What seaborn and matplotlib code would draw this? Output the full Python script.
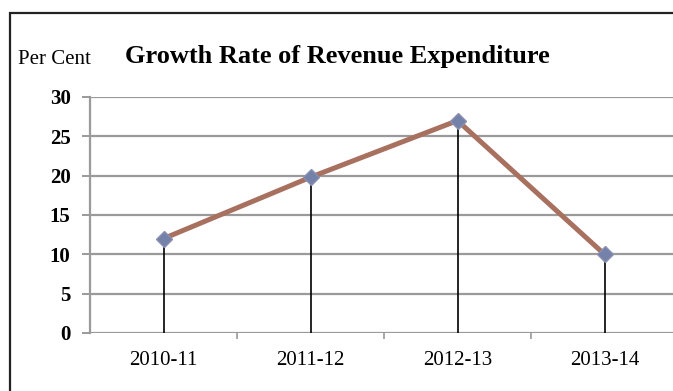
import matplotlib
matplotlib.use("Agg")
import matplotlib.pyplot as plt
import matplotlib.patches as mpatches
import seaborn as sns
import pandas as pd

years = ["2010-11", "2011-12", "2012-13", "2013-14"]
growth = [12.0, 19.8, 27.0, 10.0]
y_ticks = [0, 5, 10, 15, 20, 25, 30]

df = pd.DataFrame({"year": years, "growth": growth})

sns.set_theme(style="white")
plt.rcParams["font.family"] = ["Liberation Serif", "DejaVu Serif"]
plt.rcParams["text.color"] = "black"
plt.rcParams["xtick.color"] = "black"
plt.rcParams["ytick.color"] = "black"

W, H = 673, 391
fig = plt.figure(figsize=(W / 100, H / 100), dpi=100)
fig.patch.set_facecolor("white")

# outer frame
fig.patches.append(mpatches.Rectangle((10 / W, -0.2), 1.2, (H - 13) / H + 0.2,
                                      transform=fig.transFigure, fill=False,
                                      edgecolor="#222222", linewidth=1.6))

ax = fig.add_axes([90 / W, 58 / H, 588 / W, 236 / H])
ax.set_facecolor("none")

grid_c = "#9a9a9a"
for t in y_ticks:
    ax.axhline(t, color=grid_c, linewidth=1.6, zorder=1)

# drop lines from each point to the baseline
for i, v in enumerate(df["growth"]):
    ax.vlines(i, 0, v, color="black", linewidth=1.2, zorder=2)

sns.lineplot(data=df, x="year", y="growth", sort=False, ax=ax,
             color="#a8705f", linewidth=3.6, zorder=3,
             marker="D", markersize=8, markerfacecolor="#7482aa",
             markeredgecolor="#8a90b0", markeredgewidth=1)

ax.set_xlim(-0.5, 3.5)
ax.set_ylim(0, 30)
ax.set_yticks(y_ticks)
ax.set_yticklabels([str(t) for t in y_ticks], fontsize=15, fontweight="bold")
ax.set_xticks(range(len(years)))
ax.set_xticklabels(years, fontsize=15)
ax.set_xticks([0.5, 1.5, 2.5], minor=True)
ax.tick_params(axis="y", which="major", left=True, length=6, width=1.4,
               color=grid_c, pad=8)
ax.tick_params(axis="x", which="major", bottom=False, pad=7)
ax.tick_params(axis="x", which="minor", bottom=True, length=4, width=1.2,
               color=grid_c)
ax.set_xlabel("")
ax.set_ylabel("")
for s in ["top", "right", "bottom"]:
    ax.spines[s].set_visible(False)
ax.spines["left"].set_color(grid_c)
ax.spines["left"].set_linewidth(1.6)

fig.text(18 / W, 1 - 60 / H, "Per Cent", fontsize=15, va="center", ha="left")
fig.text(125 / W, 1 - 57 / H, "Growth Rate of Revenue Expenditure",
         fontsize=19, fontweight="bold", va="center", ha="left")

fig.savefig("out.png", dpi=100, facecolor="white")
